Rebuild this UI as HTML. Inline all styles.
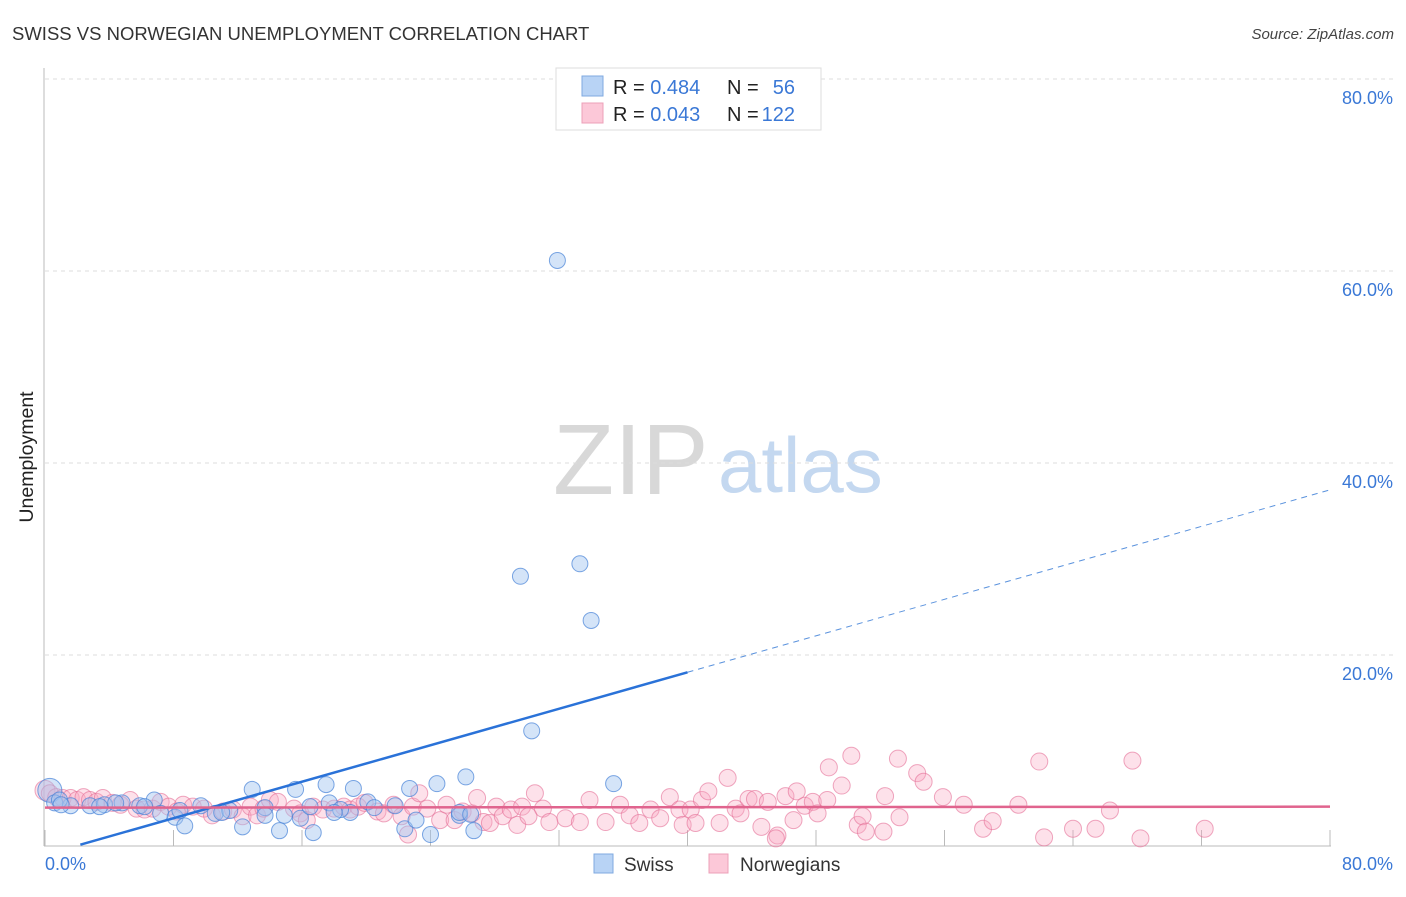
<!DOCTYPE html>
<html><head><meta charset="utf-8"><style>
body{margin:0;background:#fff;font-family:"Liberation Sans",sans-serif;}
svg text{font-family:"Liberation Sans",sans-serif;}
</style></head><body>
<svg id="chart" width="1406" height="892" xmlns="http://www.w3.org/2000/svg">
<text x="12" y="40" font-size="18.5" fill="#333">SWISS VS NORWEGIAN UNEMPLOYMENT CORRELATION CHART</text>
<text x="1394" y="39" font-size="15" fill="#444" text-anchor="end" font-style="italic">Source: ZipAtlas.com</text>
<text x="33" y="457" font-size="19.5" fill="#222" text-anchor="middle" transform="rotate(-90 33 457)">Unemployment</text>
<g>
<text x="553" y="494" font-size="100" fill="#d8d8d8" font-family="Liberation Serif">ZIP</text>
<text x="718" y="492" font-size="78" fill="#c4d8f0">atlas</text>
</g>
<g id="grid"></g>
<g id="axes"></g>
<g id="pts"></g>
<g id="trends"></g>
<g>
<rect x="556" y="68" width="265" height="62" fill="#fff" stroke="#ddd"/>
<rect x="582" y="76" width="21" height="20" fill="#b8d3f5" stroke="#7fa9e0"/>
<rect x="582" y="103" width="21" height="20" fill="#fcc8d8" stroke="#eca0b8"/>
<text x="613" y="94" font-size="20" fill="#222">R = <tspan fill="#3a78d6">0.484</tspan></text>
<text x="727" y="94" font-size="20" fill="#222">N =</text>
<text x="795" y="94" font-size="20" fill="#3a78d6" text-anchor="end">56</text>
<text x="613" y="121" font-size="20" fill="#222">R = <tspan fill="#3a78d6">0.043</tspan></text>
<text x="727" y="121" font-size="20" fill="#222">N =</text>
<text x="795" y="121" font-size="20" fill="#3a78d6" text-anchor="end">122</text>
</g>
<g>
<rect x="594" y="854" width="19" height="19" fill="#b8d3f5" stroke="#7fa9e0"/>
<text x="624" y="871" font-size="19" fill="#333">Swiss</text>
<rect x="709" y="854" width="19" height="19" fill="#fcc8d8" stroke="#eca0b8"/>
<text x="740" y="871" font-size="19" fill="#333">Norwegians</text>
</g>
</svg>
<script>
const yTicks=[20,40,60,80];
const yTickLabels=["20.0%","40.0%","60.0%","80.0%"];
const xTicks=[0,8,16,24,32,40,48,56,64,72,80];
const xEndLabels=["0.0%","80.0%"];
const swissX=[0.3,0.6,1.6,2.8,3.7,4.8,5.9,6.8,7.2,8.1,8.7,9.7,10.6,11.5,12.3,12.9,13.7,14.6,15.6,15.9,16.7,17.5,17.7,19.0,19.2,20.1,21.8,22.4,22.7,23.1,24.0,24.4,25.8,26.2,26.7,29.6,30.3,31.9,33.3,34.0,35.4,0.9,3.4,6.2,11.0,13.7,14.9,18.4,20.5,25.8,26.5,1.0,4.4,8.4,18.0,16.5];
const swissY=[5.9,4.6,4.3,4.3,4.4,4.6,4.3,4.9,3.5,3.1,2.2,4.3,3.5,3.8,2.1,6.0,4.1,1.7,6.0,3.0,1.5,6.5,4.6,3.6,6.1,4.7,4.3,1.9,6.1,2.8,1.3,6.6,3.3,7.3,1.7,28.2,12.1,61.1,29.5,23.6,6.6,4.9,4.2,4.2,3.6,3.3,3.3,3.9,4.1,3.6,3.4,4.4,4.6,3.8,3.6,4.2];
const norX=[0.0,0.3,0.7,1.1,1.6,2.0,2.4,2.8,3.2,3.6,4.2,4.7,5.3,5.7,6.2,6.7,7.2,7.7,8.2,8.6,9.2,9.9,10.4,11.1,11.7,12.3,12.8,13.2,13.6,14.0,14.5,15.5,15.9,16.3,16.7,17.3,18.0,18.6,19.0,19.5,19.9,20.7,21.1,21.7,22.2,22.6,22.9,23.3,23.8,24.6,25.0,25.5,26.0,26.6,26.9,27.3,27.7,28.1,28.5,29.0,29.4,29.7,30.1,30.5,31.0,31.4,32.4,33.3,33.9,34.9,35.8,36.4,37.0,37.7,38.3,38.9,39.5,40.2,39.7,40.5,40.9,41.3,42.5,42.0,43.0,43.3,43.8,44.2,44.6,45.0,45.6,45.5,46.1,46.6,46.8,47.3,47.8,48.1,48.7,48.8,49.6,50.2,50.6,50.9,51.1,52.2,52.3,53.1,53.2,54.3,54.7,55.9,57.2,58.4,59.0,60.6,61.9,62.2,65.4,66.3,67.7,68.2,72.2,64.0];
const norY=[5.9,5.6,5.2,5.1,5.1,4.9,5.2,4.9,4.7,5.1,4.6,4.4,4.9,4.0,3.9,4.0,4.7,4.2,3.7,4.4,4.2,4.0,3.3,3.7,3.9,3.2,4.2,3.3,4.0,4.9,4.7,4.0,3.5,2.8,4.2,3.9,4.0,4.2,3.9,4.2,4.6,3.7,3.5,4.4,3.2,1.3,4.2,5.6,4.0,2.8,4.4,2.8,3.7,3.5,5.1,2.6,2.5,4.2,3.2,3.9,2.3,4.2,3.2,5.6,4.0,2.6,3.0,2.6,4.9,2.6,4.4,3.3,2.5,3.9,3.0,5.2,3.9,3.9,2.3,2.5,4.9,5.8,7.2,2.5,4.0,3.5,5.0,5.0,2.1,4.7,1.2,0.9,5.3,2.8,5.8,4.3,4.7,3.5,4.9,8.3,6.4,9.5,2.3,3.2,1.6,1.6,5.3,9.2,3.1,7.7,6.8,5.2,4.4,1.9,2.7,4.4,8.9,1.0,1.9,3.8,9.0,0.9,1.9,1.9];
const swissTrend=[-0.8,37.2];
const norTrend=[4.1,4.2];
const NS="http://www.w3.org/2000/svg";
const X=v=>45+v*(1330-45)/80;
const Y=v=>847-v*9.6;
function mk(tag,parent,attrs){const e=document.createElementNS(NS,tag);for(const k in attrs)e.setAttribute(k,attrs[k]);parent.appendChild(e);return e;}
const grid=document.getElementById('grid'),axes=document.getElementById('axes'),pts=document.getElementById('pts'),tr=document.getElementById('trends');
yTicks.forEach((t,i)=>{
 const l=mk('line',grid,{x1:45,x2:1394,y1:Y(t),y2:Y(t),stroke:'#ddd','stroke-dasharray':'4,4'});
 
 
 const tx=mk('text',grid,{x:1393,y:Y(t)+25,'font-size':18,fill:'#3a78d6','text-anchor':'end'});
 tx.textContent=yTickLabels[i];
 
 
});
const ya=mk('line',axes,{x1:44,x2:44,y1:68,y2:846,stroke:'#bbb'});


const xa=mk('line',axes,{x1:44,x2:1331,y1:846,y2:846,stroke:'#bbb'});


xTicks.forEach(t=>{
 const l=mk('line',axes,{x1:X(t),x2:X(t),y1:830,y2:846,stroke:'#bbb'});
 
 
});
const xl0=mk('text',axes,{x:45,y:870,'font-size':18,fill:'#3a78d6'});xl0.textContent=xEndLabels[0];


const xl1=mk('text',axes,{x:1393,y:870,'font-size':18,fill:'#3a78d6','text-anchor':'end'});xl1.textContent=xEndLabels[1];


norX.forEach((v,i)=>{
 const c=mk('circle',pts,{cx:X(v),cy:Y(norY[i]),r:i===0?10:8.5,fill:'rgba(248,170,195,0.35)',stroke:'rgba(228,110,150,0.6)','stroke-width':1});
 
 
});
swissX.forEach((v,i)=>{
 const c=mk('circle',pts,{cx:X(v),cy:Y(swissY[i]),r:i===0?12:8,fill:'rgba(160,196,240,0.45)',stroke:'rgba(70,130,215,0.7)','stroke-width':1});
 
 
});
const sAt=x=>swissTrend[0]+(swissTrend[1]-swissTrend[0])*x/80;
const s1=mk('line',tr,{x1:X(2.2),y1:Y(sAt(2.2)),x2:X(40),y2:Y(sAt(40)),stroke:'#2a72d8','stroke-width':2.5});


const s2=mk('line',tr,{x1:X(40),y1:Y(sAt(40)),x2:X(80),y2:Y(sAt(80)),stroke:'#5a92dd','stroke-width':1,'stroke-dasharray':'6,5'});


const n1=mk('line',tr,{x1:X(0),y1:Y(norTrend[0]),x2:X(80),y2:Y(norTrend[1]),stroke:'#e0648e','stroke-width':2.5});


</script>
</body></html>
